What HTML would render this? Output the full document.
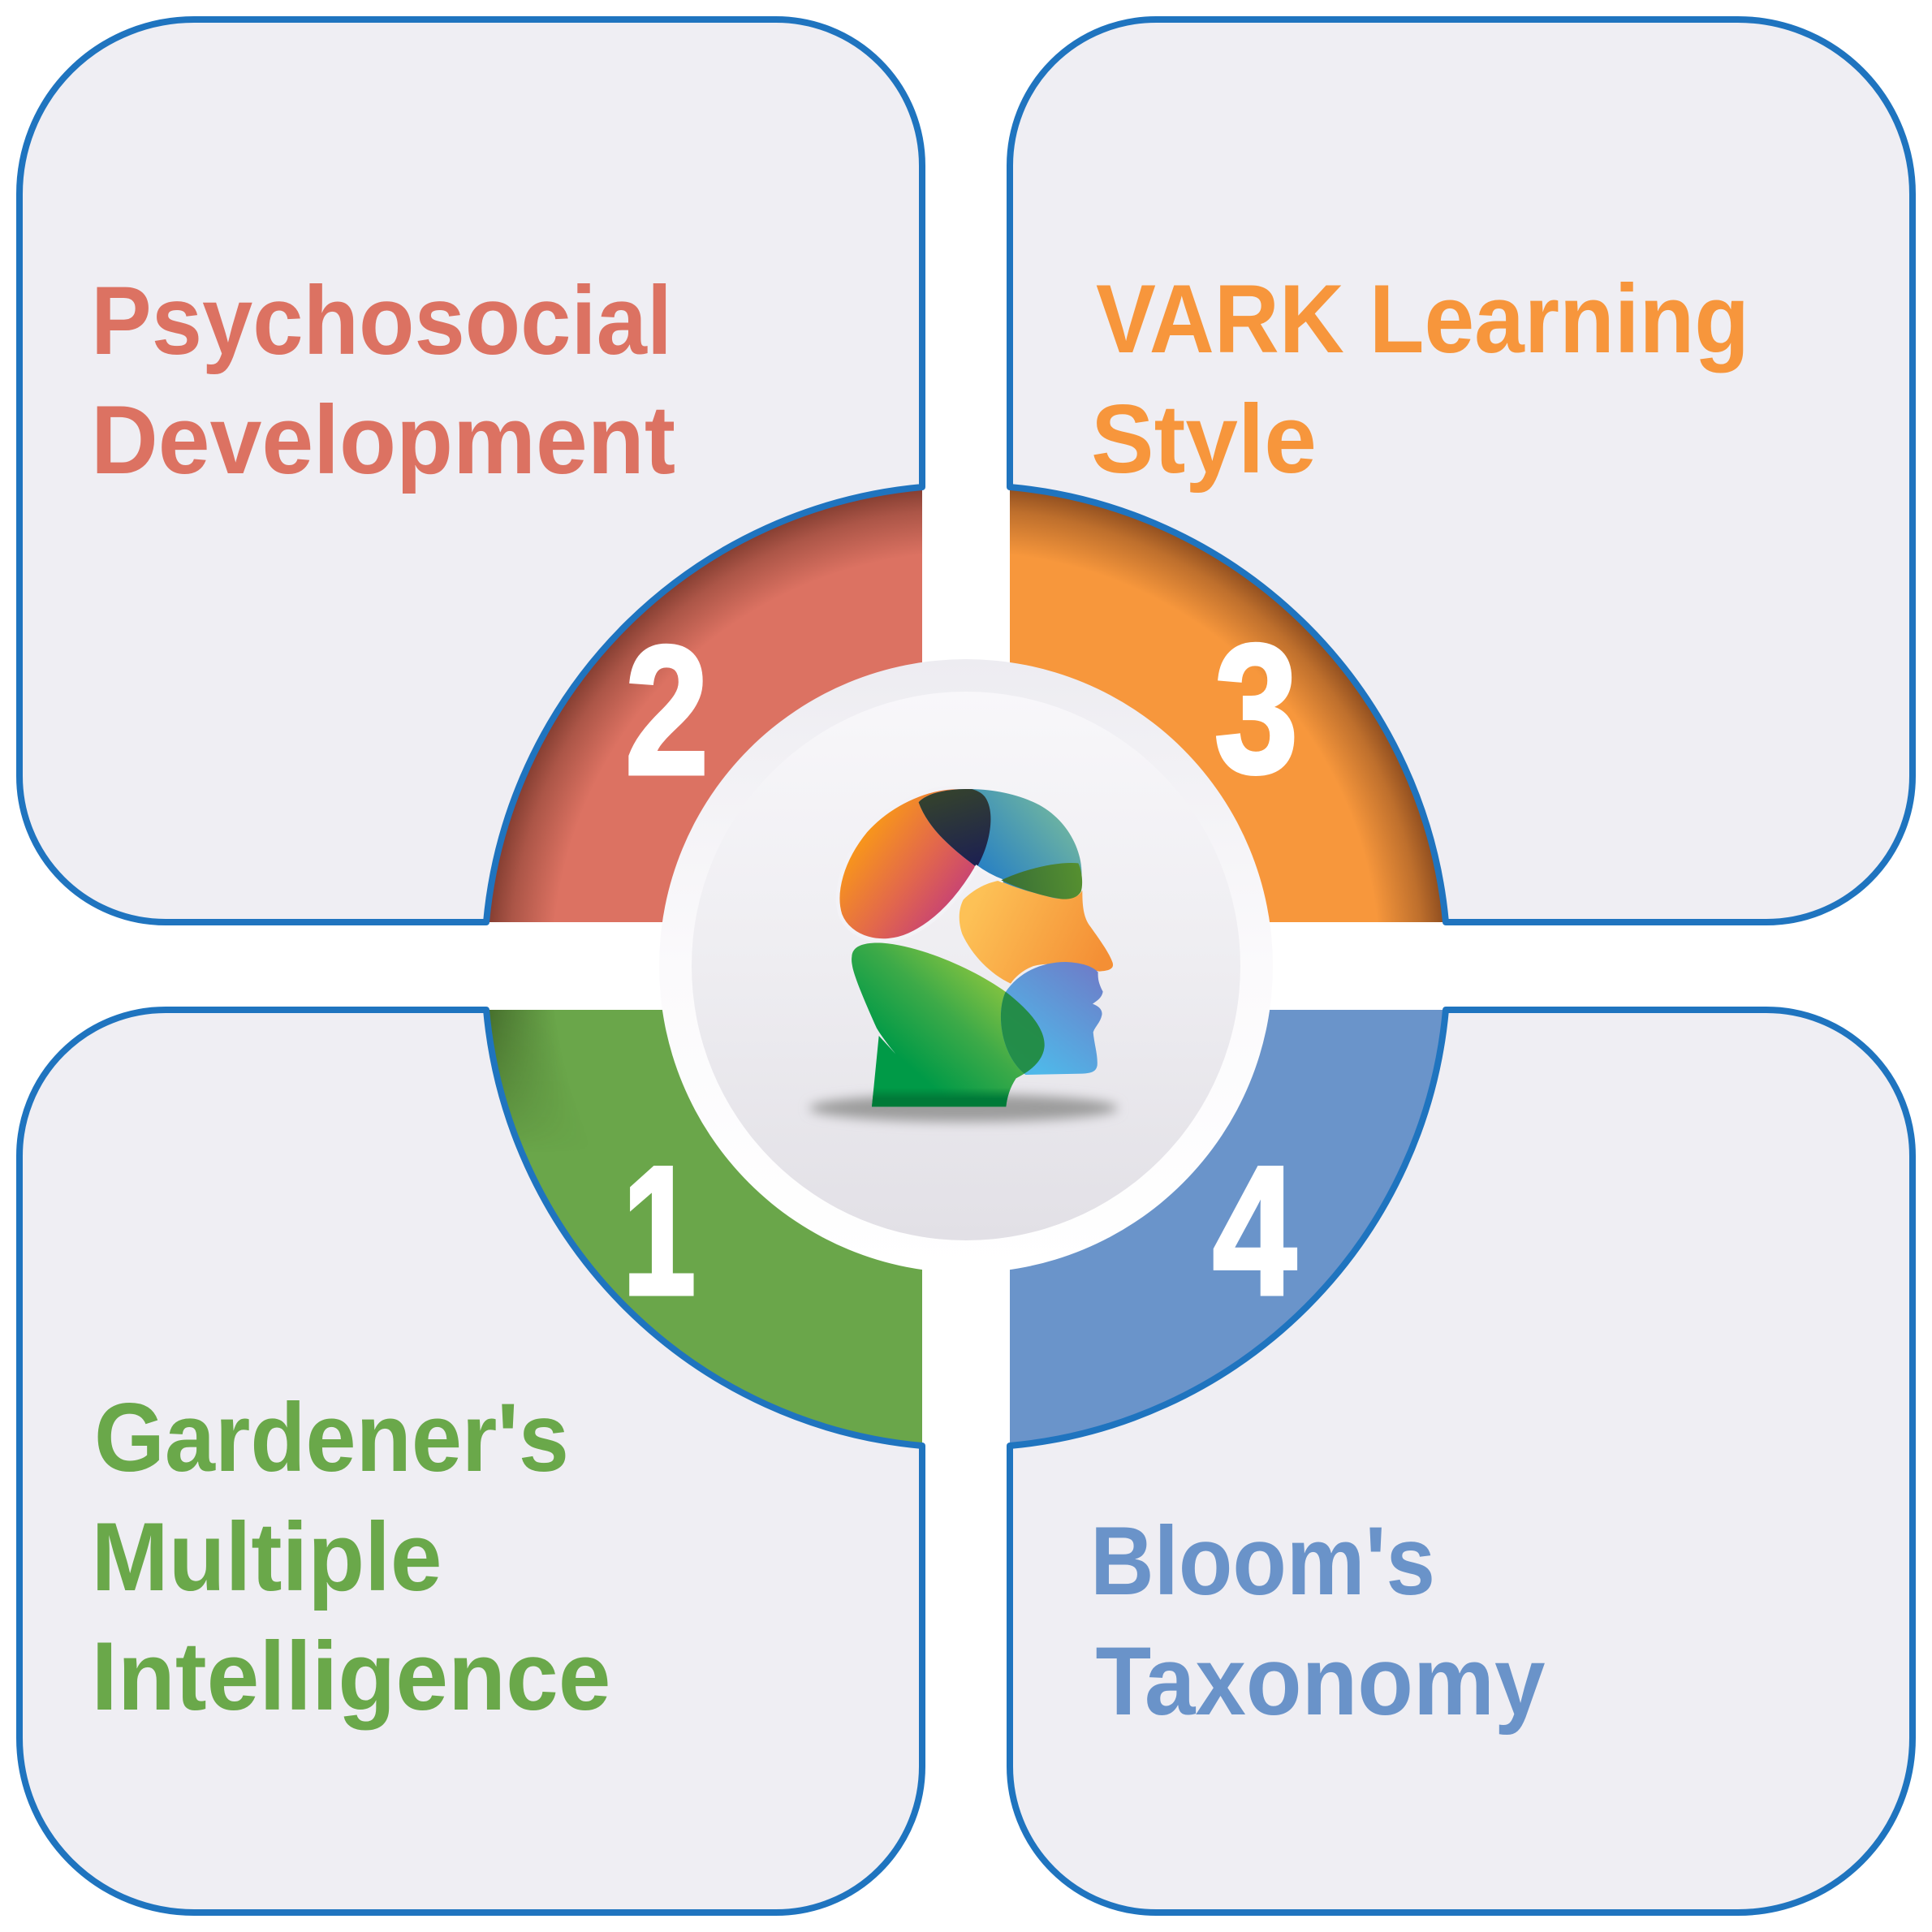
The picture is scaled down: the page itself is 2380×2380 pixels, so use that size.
<!DOCTYPE html>
<html>
<head>
<meta charset="utf-8">
<style>
  html, body { margin: 0; padding: 0; background: #ffffff; }
  body { width: 2380px; height: 2380px; overflow: hidden; }
  svg { display: block; }
  .lbl { font-family: "Liberation Sans", Arial, sans-serif; font-weight: 700; font-size: 120px; }
  .num { font-family: "Liberation Sans", Arial, sans-serif; font-weight: 700; font-size: 226px; fill: #ffffff; stroke: #ffffff; stroke-width: 5; stroke-linejoin: miter; }
</style>
</head>
<body>
<svg width="2380" height="2380" viewBox="0 0 2380 2380" xmlns="http://www.w3.org/2000/svg">
  <defs>
    <clipPath id="qTL"><rect x="0" y="0" width="1136" height="1136"/></clipPath>
    <clipPath id="qTR"><rect x="1244" y="0" width="1136" height="1136"/></clipPath>
    <clipPath id="qBL"><rect x="0" y="1244" width="1136" height="1136"/></clipPath>
    <clipPath id="qBR"><rect x="1244" y="1244" width="1136" height="1136"/></clipPath>

    <radialGradient id="shR" gradientUnits="userSpaceOnUse" cx="1190" cy="1190" r="592">
      <stop offset="0.86" stop-color="#3a1208" stop-opacity="0"/>
      <stop offset="0.95" stop-color="#3a1208" stop-opacity="0.3"/>
      <stop offset="1" stop-color="#3a1208" stop-opacity="0.55"/>
    </radialGradient>
    <radialGradient id="shG" gradientUnits="userSpaceOnUse" cx="1190" cy="1190" r="592">
      <stop offset="0.86" stop-color="#1a2a08" stop-opacity="0"/>
      <stop offset="1" stop-color="#1a2a08" stop-opacity="0.45"/>
    </radialGradient>
    <linearGradient id="fadeDown" gradientUnits="userSpaceOnUse" x1="0" y1="1244" x2="0" y2="1420">
      <stop offset="0" stop-color="#ffffff"/>
      <stop offset="1" stop-color="#000000"/>
    </linearGradient>
    <mask id="mTop" maskUnits="userSpaceOnUse" x="0" y="1244" width="1136" height="1136">
      <rect x="0" y="1244" width="1136" height="1136" fill="url(#fadeDown)"/>
    </mask>

    <linearGradient id="ring" x1="0" y1="0" x2="0" y2="1">
      <stop offset="0" stop-color="#EDECF1"/>
      <stop offset="0.5" stop-color="#FBFAFC"/>
      <stop offset="1" stop-color="#FFFFFF"/>
    </linearGradient>
    <linearGradient id="inner" x1="0" y1="0" x2="0" y2="1">
      <stop offset="0" stop-color="#F8F7FA"/>
      <stop offset="0.5" stop-color="#EEEDF1"/>
      <stop offset="1" stop-color="#E2E0E6"/>
    </linearGradient>

    <!-- head gradients (in head local coords) -->
    <linearGradient id="gOrange" gradientUnits="userSpaceOnUse" x1="180" y1="420" x2="540" y2="690">
      <stop offset="0" stop-color="#F7941D"/>
      <stop offset="0.5" stop-color="#E2674C"/>
      <stop offset="1" stop-color="#C23B7C"/>
    </linearGradient>
    <linearGradient id="gTeal" gradientUnits="userSpaceOnUse" x1="900" y1="300" x2="640" y2="520">
      <stop offset="0" stop-color="#6BB2A3"/>
      <stop offset="1" stop-color="#2A82C2"/>
    </linearGradient>
    <linearGradient id="gNavy" gradientUnits="userSpaceOnUse" x1="520" y1="230" x2="600" y2="490">
      <stop offset="0" stop-color="#33402F"/>
      <stop offset="1" stop-color="#1D2150"/>
    </linearGradient>
    <linearGradient id="gDkG" gradientUnits="userSpaceOnUse" x1="720" y1="560" x2="990" y2="510">
      <stop offset="0" stop-color="#3A7036"/>
      <stop offset="1" stop-color="#558F30"/>
    </linearGradient>
    <linearGradient id="gYel" gradientUnits="userSpaceOnUse" x1="600" y1="640" x2="1060" y2="870">
      <stop offset="0" stop-color="#FDC156"/>
      <stop offset="1" stop-color="#F48F35"/>
    </linearGradient>
    <linearGradient id="gBlue" gradientUnits="userSpaceOnUse" x1="800" y1="1230" x2="1050" y2="900">
      <stop offset="0" stop-color="#4FB8E9"/>
      <stop offset="1" stop-color="#6C80CA"/>
    </linearGradient>
    <linearGradient id="gGreen" gradientUnits="userSpaceOnUse" x1="700" y1="900" x2="380" y2="1260">
      <stop offset="0" stop-color="#8CC63F"/>
      <stop offset="0.5" stop-color="#3DAA48"/>
      <stop offset="1" stop-color="#009A47"/>
    </linearGradient>
    <linearGradient id="gNeckBand" gradientUnits="userSpaceOnUse" x1="0" y1="1320" x2="0" y2="1360">
      <stop offset="0" stop-color="#007A38" stop-opacity="0"/>
      <stop offset="1" stop-color="#007A38" stop-opacity="1"/>
    </linearGradient>

    <path id="pOrange" d="M 640,245 C 680,300 660,420 610,505 C 560,590 480,700 360,755 C 260,800 140,770 105,680 C 80,600 110,480 200,370 C 290,270 420,215 520,210 C 580,208 620,220 640,245 Z"/>
    <path id="pTeal" d="M 395,265 C 450,200 700,195 850,280 C 960,345 1010,470 995,560 C 985,620 930,630 880,615 C 780,590 680,560 610,505 C 510,430 430,360 395,265 Z"/>
    <path id="pGreen" d="M 148,835 C 150,795 195,782 260,785 C 400,795 600,880 720,968 C 800,1030 862,1100 860,1165 C 856,1225 800,1262 755,1285 C 732,1320 722,1355 718,1390 L 222,1390 L 248,1128 L 310,1195 C 285,1165 258,1130 240,1100 C 200,1010 165,930 152,880 C 148,860 146,850 148,835 Z"/>
    <path id="pBlue" d="M 715,968 C 760,900 840,855 940,855 C 1000,858 1040,872 1058,893 C 1056,925 1066,945 1076,965 C 1072,988 1055,998 1038,1010 C 1060,1018 1076,1032 1072,1052 C 1066,1080 1046,1095 1040,1115 C 1044,1160 1058,1200 1055,1238 C 1050,1262 1032,1266 1000,1268 L 790,1272 C 700,1200 680,1050 715,968 Z"/>

    <clipPath id="cOrange"><use href="#pOrange"/></clipPath>
    <clipPath id="cGreen"><use href="#pGreen"/></clipPath>

    <filter id="blur" x="-20%" y="-100%" width="140%" height="300%">
      <feGaussianBlur stdDeviation="7"/>
    </filter>
  </defs>

  <!-- colored ring sectors -->
  <g clip-path="url(#qTL)">
    <circle cx="1190" cy="1190" r="592" fill="#DC7262"/>
    <circle cx="1190" cy="1190" r="592" fill="url(#shR)"/>
  </g>
  <g clip-path="url(#qTR)">
    <circle cx="1190" cy="1190" r="592" fill="#F7973C"/>
    <circle cx="1190" cy="1190" r="592" fill="url(#shR)"/>
  </g>
  <g clip-path="url(#qBL)">
    <circle cx="1190" cy="1190" r="592" fill="#6AA64A"/>
    <circle cx="1190" cy="1190" r="592" fill="url(#shG)" mask="url(#mTop)"/>
  </g>
  <g clip-path="url(#qBR)">
    <circle cx="1190" cy="1190" r="592" fill="#6A94CA"/>
  </g>

  <!-- boxes -->
  <g fill="#EFEEF3" stroke="#1F74BF" stroke-width="8" stroke-linejoin="round">
    <path d="M 1136 600 L 1136 204 A 180 180 0 0 0 956 24 L 239 24 A 215 215 0 0 0 24 239 L 24 956 A 180 180 0 0 0 204 1136 L 599 1136 A 593 593 0 0 1 1136 600 Z"/>
    <path d="M 1244 600 L 1244 204 A 180 180 0 0 1 1424 24 L 2141 24 A 215 215 0 0 1 2356 239 L 2356 956 A 180 180 0 0 1 2176 1136 L 1781 1136 A 593 593 0 0 0 1244 600 Z"/>
    <path d="M 599 1244 L 204 1244 A 180 180 0 0 0 24 1424 L 24 2141 A 215 215 0 0 0 239 2356 L 956 2356 A 180 180 0 0 0 1136 2176 L 1136 1781 A 593 593 0 0 1 599 1244 Z"/>
    <path d="M 1781 1244 L 2176 1244 A 180 180 0 0 1 2356 1424 L 2356 2141 A 215 215 0 0 1 2141 2356 L 1424 2356 A 180 180 0 0 1 1244 2176 L 1244 1781 A 593 593 0 0 0 1781 1244 Z"/>
  </g>

  <!-- center circles -->
  <circle cx="1190" cy="1190" r="378" fill="url(#ring)"/>
  <circle cx="1190" cy="1190" r="338" fill="url(#inner)"/>

  <!-- head shadow -->
  <ellipse cx="1187" cy="1365" rx="190" ry="17" fill="#9C9C9C" filter="url(#blur)"/>

  <!-- head -->
  <g transform="translate(1000,900) scale(0.333333)">
    <use href="#pGreen" fill="url(#gGreen)"/>
    <rect x="200" y="1300" width="600" height="100" fill="url(#gNeckBand)" clip-path="url(#cGreen)"/>
    <path d="M 560,625 C 600,585 650,560 700,553 C 780,582 880,615 940,622 C 975,620 993,605 1000,590 C 1000,640 1002,690 1030,725 C 1062,770 1100,822 1112,858 C 1118,880 1100,888 1062,890 C 1000,878 900,850 820,870 C 780,885 752,910 735,935 C 660,900 592,830 556,752 C 540,705 542,660 560,625 Z" fill="url(#gYel)"/>
    <use href="#pBlue" fill="url(#gBlue)"/>
    <g clip-path="url(#cGreen)">
      <use href="#pBlue" fill="#1F8A3C" opacity="0.92"/>
    </g>
    <use href="#pOrange" fill="url(#gOrange)" stroke="#F3F2F6" stroke-width="14"/>
    <use href="#pTeal" fill="url(#gTeal)"/>
    <g clip-path="url(#cOrange)">
      <use href="#pTeal" fill="url(#gNavy)"/>
    </g>
    <path d="M 604,500 Q 650,535 708,557" fill="none" stroke="#F3F2F6" stroke-width="12"/>
    <path d="M 700,553 C 780,515 900,483 985,490 C 1000,520 1003,570 995,595 C 980,620 950,625 920,622 C 840,610 760,580 700,553 Z" fill="url(#gDkG)"/>
  </g>

  <!-- numbers -->
  <text class="num" text-anchor="middle" transform="translate(821.5,953) scale(0.82,1)">2</text>
  <text class="num" text-anchor="middle" transform="translate(1547.5,951) scale(0.82,1)">3</text>
  <text class="num" text-anchor="middle" transform="translate(812,1594) scale(0.72,1)">1</text>
  <text class="num" text-anchor="middle" transform="translate(1545.5,1594) scale(0.82,1)">4</text>

  <!-- labels -->
  <g class="lbl">
    <text x="112" y="436" fill="#DC7262" textLength="716" lengthAdjust="spacingAndGlyphs">Psychosocial</text>
    <text x="112" y="583" fill="#DC7262" textLength="720" lengthAdjust="spacingAndGlyphs">Development</text>

    <text x="1350" y="434" fill="#F7963C" textLength="805" lengthAdjust="spacingAndGlyphs">VARK Learning</text>
    <text x="1344" y="582" fill="#F7963C" textLength="278" lengthAdjust="spacingAndGlyphs">Style</text>

    <text x="116" y="1812" fill="#6AA84A" textLength="585" lengthAdjust="spacingAndGlyphs">Gardener's</text>
    <text x="112.5" y="1959" fill="#6AA84A" textLength="432" lengthAdjust="spacingAndGlyphs">Multiple</text>
    <text x="112.5" y="2106" fill="#6AA84A" textLength="640" lengthAdjust="spacingAndGlyphs">Intelligence</text>

    <text x="1343" y="1964" fill="#6A93C9" textLength="425" lengthAdjust="spacingAndGlyphs">Bloom's</text>
    <text x="1349.5" y="2112" fill="#6A93C9" textLength="554" lengthAdjust="spacingAndGlyphs">Taxonomy</text>
  </g>
</svg>
</body>
</html>
